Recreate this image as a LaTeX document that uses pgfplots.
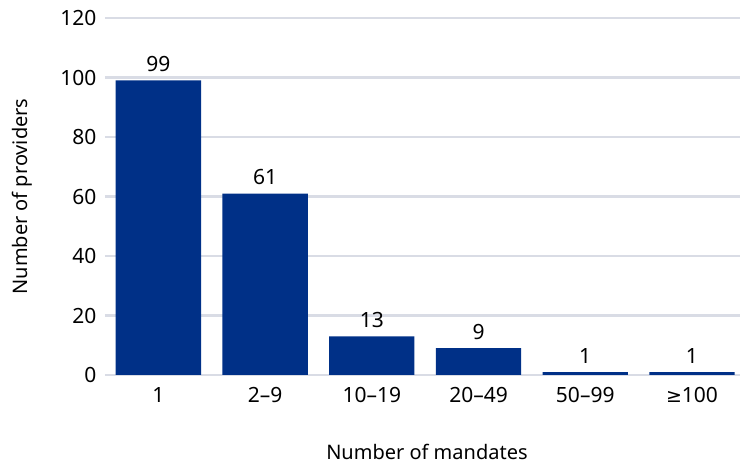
\documentclass[border=0pt]{standalone}
\usepackage{pgfplots}
\pgfplotsset{compat=1.18}
\usepackage{fontspec}
\setmainfont{Noto Sans}
\newfontfamily\dejavu{DejaVu Sans}
\definecolor{barblue}{HTML}{003087}
\definecolor{gridc}{HTML}{D9DCE5}
\begin{document}
\begin{tikzpicture}[x=1pt,y=1pt]
\useasboundingbox (0,0) rectangle (740,466);
\begin{axis}[
  at={(105pt,91pt)}, anchor=south west,
  scale only axis, width=635pt, height=357pt,
  xmin=-0.5, xmax=5.45, ymin=0, ymax=120,
  ytick={0,20,...,120},
  xtick={0,...,5},
  xticklabels={1,2--9,10--19,20--49,50--99,{{\dejavu\fontsize{19}{25}\selectfont ≥}100}},
  axis line style={draw=none},
  ymajorgrids, grid style={gridc, line width=2.2pt},
  major tick length=0pt,
  ybar, bar width=0.8,
  /pgf/bar shift=0pt,
  /pgf/number format/assume math mode=true,
  yticklabel style={font=\fontsize{21}{25}\selectfont, xshift=-5pt},
  xticklabel style={font=\fontsize{21}{25}\selectfont, yshift=-9pt},
  xlabel={Number of mandates}, ylabel={Number of providers},
  label style={font=\fontsize{20}{24}\selectfont},
  xlabel style={at={(axis description cs:0.507,-0.215)}, anchor=center},
  ylabel style={at={(axis description cs:-0.131,0.5)}, anchor=center, rotate=0},
  nodes near coords,
  every node near coord/.append style={font=\fontsize{21}{25}\selectfont, yshift=5pt, text=black},
  clip=false,
]
\addplot[fill=barblue, draw=none] coordinates {(0,99) (1,61) (2,13) (3,9) (4,1) (5,1)};
\end{axis}
\end{tikzpicture}
\end{document}
